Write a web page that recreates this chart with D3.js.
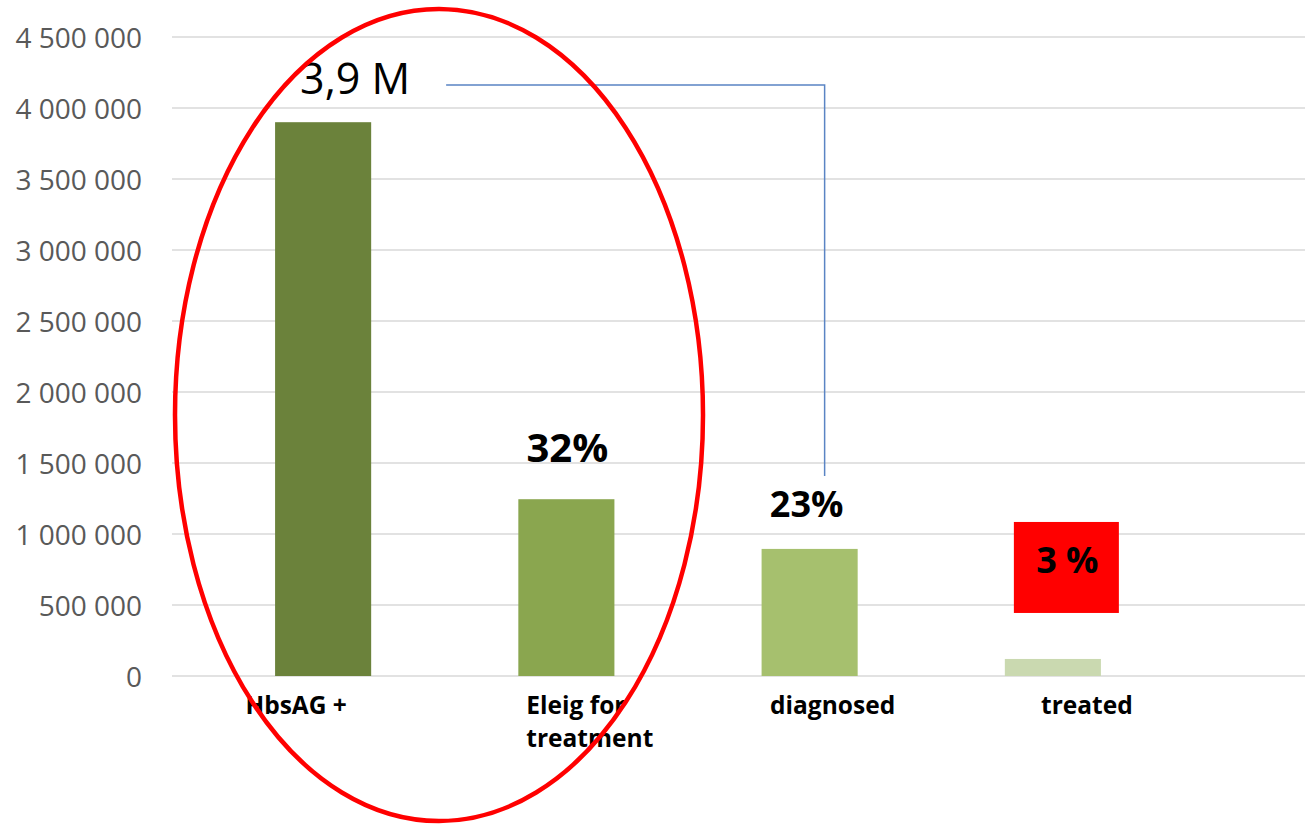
<!DOCTYPE html>
<html>
<head>
<meta charset="utf-8">
<script src="https://cdn.jsdelivr.net/npm/d3@7"></script>
<style>
  html, body { margin: 0; padding: 0; background: #ffffff; }
  svg { display: block; }
</style>
</head>
<body>
<svg id="chart" width="1306" height="825"></svg>
<script>
// ---- Data ----
const categories = ["HbsAG +", "Eleig for\ntreatment", "diagnosed", "treated"];
const values = [3900000, 1245000, 895000, 120000];
const barColors = ["#6b823b", "#8aa64f", "#a6c06e", "#cad9b0"];
const dataLabels = ["3,9 M", "32%", "23%", "3 %"];
const tickValues = [0, 500000, 1000000, 1500000, 2000000, 2500000, 3000000, 3500000, 4000000, 4500000];
const tickLabels = ["0", "500 000", "1 000 000", "1 500 000", "2 000 000", "2 500 000", "3 000 000", "3 500 000", "4 000 000", "4 500 000"];

// ---- Layout ----
const W = 1306, H = 825;
const plotLeft = 172, plotRight = 1305, plotTop = 37, plotBottom = 676;
const svg = d3.select("#chart");

const y = d3.scaleLinear().domain([0, 4500000]).range([plotBottom, plotTop]);
const x = d3.scaleBand().domain(categories)
  .range([201.5, 1174.5]).paddingInner(0.605).paddingOuter(0.3025);

// gridlines
svg.append("g").selectAll("line").data(tickValues).join("line")
  .attr("x1", plotLeft).attr("x2", plotRight)
  .attr("y1", d => y(d)).attr("y2", d => y(d))
  .attr("stroke", "#d9d9d9").attr("stroke-width", 1.5);

// y axis labels
const yAxis = d3.axisLeft(y).tickValues(tickValues)
  .tickFormat((d, i) => tickLabels[i]).tickSize(0).tickPadding(0);
const gy = svg.append("g").attr("transform", `translate(142,0)`).call(yAxis);
gy.select(".domain").remove();
gy.selectAll("text")
  .attr("font-family", "'Open Sans', sans-serif")
  .attr("font-size", 28)
  .attr("fill", "#595959")
  .attr("dy", "0.36em");

// bars
svg.append("g").selectAll("rect").data(values).join("rect")
  .attr("x", (d, i) => x(categories[i]))
  .attr("y", d => y(d))
  .attr("width", x.bandwidth())
  .attr("height", d => plotBottom - y(d))
  .attr("fill", (d, i) => barColors[i]);

// category labels
const catShift = [-27, 23, 23, 34];
const catG = svg.append("g");
categories.forEach((c, i) => {
  const cx = x(c) + x.bandwidth() / 2 + catShift[i];
  const t = catG.append("text")
    .attr("x", cx).attr("y", 714)
    .attr("text-anchor", "middle")
    .attr("font-family", "'Open Sans', sans-serif")
    .attr("font-weight", "bold")
    .attr("font-size", 24.5)
    .attr("fill", "#000");
  const lines = c.split("\n");
  if (lines.length > 1) {
    t.attr("text-anchor", "start").attr("x", x(c) + 8);
    lines.forEach((ln, k) => {
      t.append("tspan").attr("x", x(c) + 8).attr("dy", k === 0 ? 0 : 33).text(ln);
    });
  } else {
    t.text(c);
  }
});

// data labels
const bc = i => x(categories[i]) + x.bandwidth() / 2;
// 3,9 M
svg.append("text")
  .attr("x", bc(0) + 32).attr("y", y(values[0]) - 28)
  .attr("text-anchor", "middle")
  .attr("font-family", "'Open Sans', sans-serif")
  .attr("font-size", 43).attr("fill", "#000")
  .text(dataLabels[0]);
// 32%
svg.append("text")
  .attr("x", bc(1) + 1).attr("y", y(values[1]) - 37)
  .attr("text-anchor", "middle")
  .attr("font-family", "'Open Sans', sans-serif").attr("font-weight", "bold")
  .attr("font-size", 40).attr("fill", "#000")
  .text(dataLabels[1]);
// 23%
svg.append("text")
  .attr("x", bc(2) - 3).attr("y", y(values[2]) - 32)
  .attr("text-anchor", "middle")
  .attr("font-family", "'Open Sans', sans-serif").attr("font-weight", "bold")
  .attr("font-size", 36).attr("fill", "#000")
  .text(dataLabels[2]);
// 3 % in red box
const boxX = bc(3) - 39, boxW = 105, boxTop = y(values[3]) - 137, boxH = 91;
svg.append("rect").attr("x", boxX).attr("y", boxTop)
  .attr("width", boxW).attr("height", boxH).attr("fill", "#ff0000");
svg.append("text")
  .attr("x", boxX + boxW / 2 + 1).attr("y", boxTop + 51)
  .attr("text-anchor", "middle")
  .attr("font-family", "'Open Sans', sans-serif").attr("font-weight", "bold")
  .attr("font-size", 36).attr("fill", "#000")
  .text(dataLabels[3]);

// connector line
const connX = bc(2) + 15;
svg.append("path")
  .attr("d", `M${bc(0) + 123},85 H${connX} V476`)
  .attr("fill", "none").attr("stroke", "#5a84c4").attr("stroke-width", 1.5);

// red ellipse
svg.append("ellipse")
  .attr("cx", 439).attr("cy", 415).attr("rx", 264).attr("ry", 406)
  .attr("fill", "none").attr("stroke", "#ff0000").attr("stroke-width", 4.5);
</script>
</body>
</html>
